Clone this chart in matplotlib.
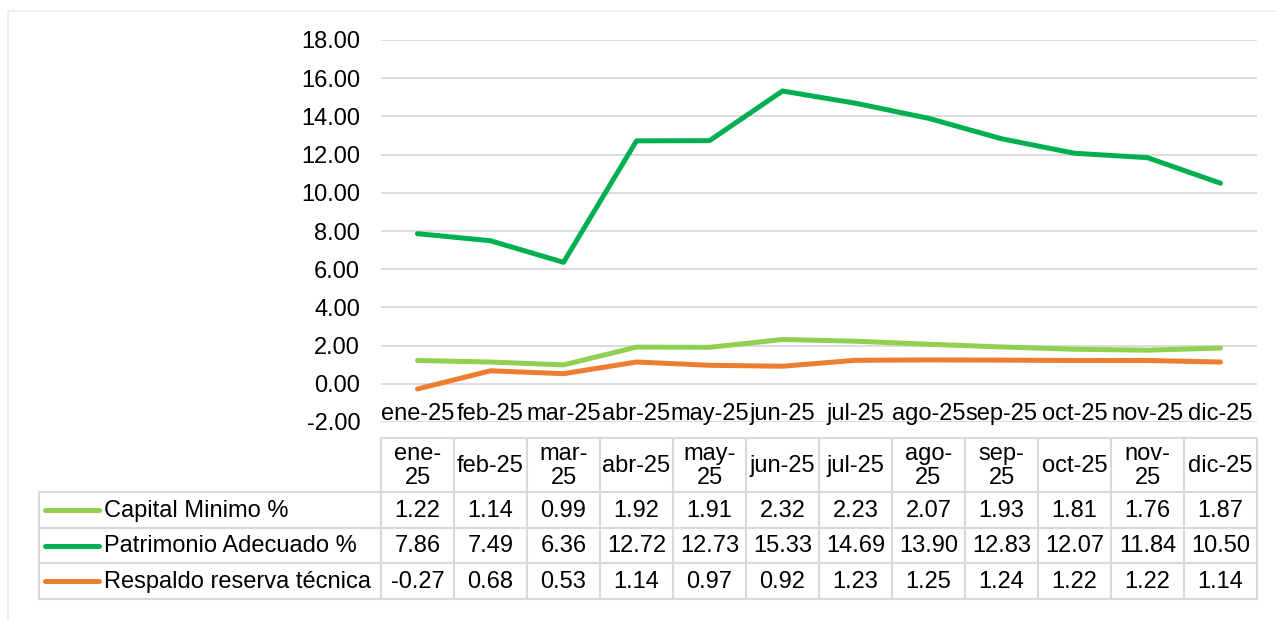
import matplotlib.pyplot as plt
import numpy as np

plt.rcParams['font.family'] = ['Liberation Sans', 'DejaVu Sans']

months = ["ene-25", "feb-25", "mar-25", "abr-25", "may-25", "jun-25",
          "jul-25", "ago-25", "sep-25", "oct-25", "nov-25", "dic-25"]
header_labels = ["ene-\n25", "feb-25", "mar-\n25", "abr-25", "may-\n25", "jun-25",
                 "jul-25", "ago-\n25", "sep-\n25", "oct-25", "nov-\n25", "dic-25"]
capital_minimo = [1.22, 1.14, 0.99, 1.92, 1.91, 2.32, 2.23, 2.07, 1.93, 1.81, 1.76, 1.87]
patrimonio = [7.86, 7.49, 6.36, 12.72, 12.73, 15.33, 14.69, 13.90, 12.83, 12.07, 11.84, 10.50]
respaldo = [-0.27, 0.68, 0.53, 1.14, 0.97, 0.92, 1.23, 1.25, 1.24, 1.22, 1.22, 1.14]

series = [
    ("Capital Minimo %", capital_minimo, "#92D050"),
    ("Patrimonio Adecuado %", patrimonio, "#00B050"),
    ("Respaldo reserva técnica", respaldo, "#ED7D31"),
]

FS = 17
W, H = 1276, 621
fig = plt.figure(figsize=(W / 100, H / 100), dpi=100)

# plot area in pixels
px_left, px_right = 381, 1257
px_top, px_bottom = 40, 422
ax = fig.add_axes([px_left / W, 1 - px_bottom / H,
                   (px_right - px_left) / W, (px_bottom - px_top) / H])
x = np.arange(len(months))
for name, vals, col in series:
    ax.plot(x, vals, color=col, lw=3.6, solid_capstyle='round', solid_joinstyle='round', zorder=3)

ax.set_xlim(-0.5, len(months) - 0.5)
ax.set_ylim(-2, 18)
ax.set_yticks(np.arange(-2, 19, 2))
ax.set_yticklabels([f"{v:.2f}" for v in np.arange(-2, 19, 2)], fontsize=FS)
ax.tick_params(axis='y', length=0, pad=15)
ax.set_xticks([])
for s in ax.spines.values():
    s.set_visible(False)
ax.grid(axis='y', color='#D9D9D9', lw=1.3)
ax.set_axisbelow(True)
for i, m in enumerate(months):
    ax.text(i, -1.9, m, ha='center', va='baseline', fontsize=FS)

# data table drawn in pixel coordinates
tab = fig.add_axes([0, 0, 1, 1])
tab.set_xlim(0, W)
tab.set_ylim(H, 0)
tab.axis('off')

col_w = (px_right - px_left) / len(months)
col_edges = [px_left + i * col_w for i in range(len(months) + 1)]
hdr_top, hdr_bot = 438, 492
row_edges = [492, 528, 563, 599]
leg_left = 39
gc = '#D9D9D9'
lw = 1.5

tab.plot([px_left, px_right], [hdr_top, hdr_top], color=gc, lw=lw)
for xe in col_edges:
    tab.plot([xe, xe], [hdr_top, row_edges[-1]], color=gc, lw=lw)
for ye in row_edges:
    tab.plot([leg_left, px_right], [ye, ye], color=gc, lw=lw)
tab.plot([leg_left, leg_left], [row_edges[0], row_edges[-1]], color=gc, lw=lw)

for i, lab in enumerate(header_labels):
    cx = col_edges[i] + col_w / 2
    tab.text(cx, (hdr_top + hdr_bot) / 2 + 1, lab, ha='center', va='center',
             fontsize=FS, linespacing=1.12)

for r, (name, vals, col) in enumerate(series):
    cy = (row_edges[r] + row_edges[r + 1]) / 2
    tab.plot([45, 99], [cy, cy], color=col, lw=3.6, solid_capstyle='round')
    tab.text(104, cy + 1, name, ha='left', va='center', fontsize=FS)
    for i, v in enumerate(vals):
        cx = col_edges[i] + col_w / 2
        tab.text(cx, cy + 1, f"{v:.2f}", ha='center', va='center', fontsize=FS)

# faint outer frame
tab.plot([8, 8, W + 5], [H + 5, 11, 11], color='#EFEFEF', lw=1.5)

fig.savefig("out.png", dpi=100)
